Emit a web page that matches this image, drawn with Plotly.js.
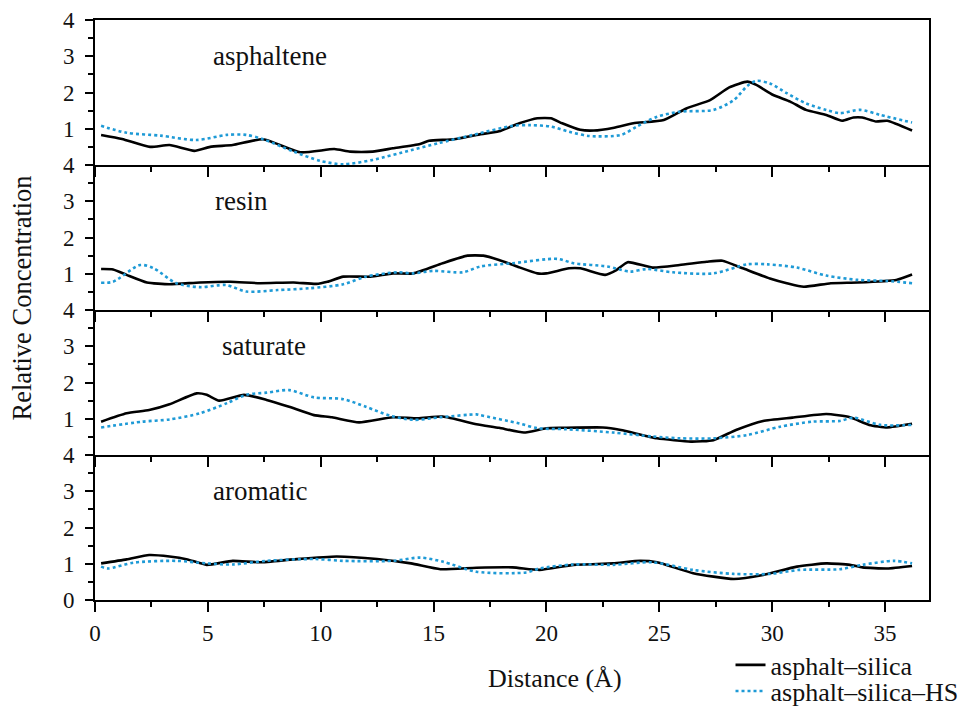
<!DOCTYPE html>
<html>
<head>
<meta charset="utf-8">
<script src="https://cdn.plot.ly/plotly-3.0.1.min.js"></script>
<style>
html,body{margin:0;padding:0;background:#fff;}
#chart{width:966px;height:713px;}
#chart svg text{font-family:"Liberation Serif","DejaVu Serif",serif !important;}
</style>
</head>
<body>
<div id="chart"></div>
<script>
// ---------- data ----------
const panelNames = ["asphaltene", "resin", "saturate", "aromatic"];
const seriesNames = ["asphalt\u2013silica", "asphalt\u2013silica\u2013HS"];

// asphaltene
const asphalteneX_A = [0.27,1.2,2.44,3.3,4.4,5.1,6.1,7.45,9.1,10.6,11.3,12.3,13.2,14.4,14.8,15.9,16.9,17.9,18.8,19.6,20.2,20.7,21.5,22.1,23.0,23.85,25.2,26.2,27.25,28.1,28.9,29.3,30.05,30.8,31.5,32.4,33.1,33.6,34.0,34.6,35.1,36.2];
const asphalteneY_A = [0.83,0.72,0.50,0.55,0.39,0.50,0.55,0.71,0.35,0.44,0.37,0.37,0.46,0.58,0.67,0.71,0.83,0.93,1.15,1.29,1.29,1.15,0.97,0.95,1.03,1.15,1.24,1.56,1.79,2.14,2.30,2.21,1.93,1.75,1.52,1.38,1.22,1.31,1.31,1.20,1.22,0.95];
const asphalteneX_B = [0.27,1.4,2.9,4.5,5.85,6.7,7.45,8.8,10.0,11.0,12.3,14.0,15.2,16.75,18.5,19.3,20.2,21.0,21.9,23.3,24.0,24.9,25.9,27.4,28.3,28.9,29.3,29.9,30.65,31.5,32.4,33.0,33.9,34.8,36.2];
const asphalteneY_B = [1.08,0.89,0.81,0.69,0.83,0.83,0.71,0.37,0.11,0.02,0.14,0.41,0.60,0.83,1.08,1.10,1.06,0.92,0.80,0.83,1.06,1.33,1.47,1.52,1.79,2.18,2.32,2.25,1.98,1.70,1.52,1.43,1.52,1.38,1.17];

// resin
const resinX_A = [0.27,0.8,1.4,2.3,3.3,4.65,6.0,7.3,8.8,9.8,10.3,11.0,12.2,13.2,14.1,15.4,16.5,17.2,17.9,18.7,19.6,20.0,21.0,21.5,22.6,23.1,23.6,24.7,25.9,27.1,27.8,28.7,29.9,30.65,31.4,32.6,33.8,35.5,36.2];
const resinY_A = [1.13,1.12,0.97,0.76,0.71,0.76,0.78,0.74,0.76,0.72,0.78,0.92,0.92,1.01,1.01,1.29,1.50,1.50,1.38,1.20,1.01,1.01,1.15,1.15,0.97,1.10,1.32,1.17,1.24,1.33,1.36,1.15,0.87,0.74,0.64,0.74,0.76,0.83,0.98];
const resinX_B = [0.27,0.8,2.0,2.6,3.6,4.65,5.8,6.7,8.1,9.5,11.0,12.0,13.4,14.1,15.0,16.3,17.06,18.5,20.5,21.2,22.7,23.7,24.45,25.6,27.4,28.9,29.8,31.1,32.4,33.8,35.1,36.2];
const resinY_B = [0.75,0.78,1.24,1.15,0.74,0.63,0.69,0.51,0.55,0.60,0.71,0.92,1.04,1.01,1.08,1.04,1.20,1.29,1.41,1.29,1.20,1.06,1.13,1.04,1.01,1.26,1.26,1.17,0.95,0.83,0.80,0.74];

// saturate
const saturateX_A = [0.27,1.4,2.4,3.3,4.5,4.95,5.5,6.6,7.6,8.6,9.7,10.5,11.7,13.2,14.3,15.4,16.9,17.9,19.0,20.0,20.7,22.5,23.3,24.9,26.4,27.4,28.4,29.6,30.9,32.4,33.45,34.3,35.1,36.2];
const saturateY_A = [0.92,1.15,1.24,1.40,1.70,1.66,1.50,1.66,1.52,1.33,1.10,1.04,0.90,1.04,1.01,1.06,0.85,0.75,0.62,0.74,0.75,0.76,0.69,0.46,0.37,0.41,0.69,0.94,1.03,1.13,1.04,0.83,0.76,0.86];
const saturateX_B = [0.27,2.1,3.3,4.65,5.85,6.7,7.6,8.6,9.7,11.0,12.0,13.1,14.1,15.3,16.9,17.06,18.8,19.6,20.9,22.95,24.7,25.9,27.4,28.9,30.35,31.8,33.0,33.6,34.8,36.2];
const saturateY_B = [0.76,0.92,0.98,1.15,1.43,1.66,1.72,1.79,1.59,1.54,1.33,1.08,0.97,1.04,1.12,1.10,0.87,0.74,0.71,0.62,0.51,0.46,0.46,0.55,0.78,0.92,0.94,1.03,0.83,0.83];

// aromatic
const aromaticX_A = [0.27,1.4,2.4,3.3,4.1,4.95,6.1,7.3,8.8,10.7,12.5,14.0,15.3,16.9,18.5,19.7,21.2,22.95,24.15,24.9,26.5,28.3,29.6,31.1,32.4,33.45,34.0,35.1,36.2];
const aromaticY_A = [1.01,1.12,1.24,1.20,1.12,0.97,1.08,1.04,1.12,1.20,1.13,1.01,0.85,0.89,0.90,0.83,0.97,1.01,1.08,1.04,0.74,0.58,0.69,0.92,1.01,0.97,0.90,0.87,0.94];
const aromaticX_B = [0.27,0.58,1.7,3.6,4.95,6.1,7.6,9.7,11.0,13.2,14.4,15.4,16.9,19.1,19.7,21.2,22.95,24.7,26.5,28.3,29.9,31.2,33.0,34.0,35.4,36.2];
const aromaticY_B = [0.92,0.87,1.03,1.08,1.01,0.98,1.08,1.13,1.08,1.08,1.17,1.06,0.78,0.76,0.87,0.98,0.97,1.04,0.83,0.72,0.72,0.83,0.85,0.97,1.08,1.01];

const xTickVals = [0, 5, 10, 15, 20, 25, 30, 35];
const yTickValsUpper = [1, 2, 3, 4];
const yTickValsBottom = [0, 1, 2, 3, 4];

// ---------- build ----------
const panelData = [
  [asphalteneX_A, asphalteneY_A, asphalteneX_B, asphalteneY_B],
  [resinX_A, resinY_A, resinX_B, resinY_B],
  [saturateX_A, saturateY_A, saturateX_B, saturateY_B],
  [aromaticX_A, aromaticY_A, aromaticX_B, aromaticY_B]
];
const labelPos = [[7.75, 3.0], [6.5, 3.0], [7.5, 3.0], [7.3, 3.0]];

const FONT = "Liberation Serif, DejaVu Serif, serif";
const BLUE = "#1e9ad6";
const traces = [];
const layout = {
  width: 966, height: 713,
  margin: {l: 95, r: 37, t: 20, b: 113, autoexpand: false},
  paper_bgcolor: "#fff", plot_bgcolor: "#fff",
  font: {family: FONT, size: 23, color: "#111"},
  showlegend: true,
  legend: {x: 0.762, y: -0.112, xanchor: "left", yanchor: "middle", font: {family: FONT, size: 26, color: "#111"}, bgcolor: "rgba(0,0,0,0)", borderwidth: 0},
  legend2: {x: 0.762, y: -0.157, xanchor: "left", yanchor: "middle", font: {family: FONT, size: 26, color: "#111"}, bgcolor: "rgba(0,0,0,0)", borderwidth: 0},
  annotations: []
};

for (let i = 0; i < 4; i++) {
  const n = i + 1;
  const xa = n === 1 ? "x" : "x" + n;
  const ya = n === 1 ? "y" : "y" + n;
  const d = panelData[i];
  traces.push({
    x: d[0], y: d[1], xaxis: xa, yaxis: ya, mode: "lines", type: "scatter",
    name: seriesNames[0], showlegend: i === 0, legend: "legend",
    line: {color: "#000", width: 2.6, shape: "spline", smoothing: 0.5}
  });
  traces.push({
    x: d[2], y: d[3], xaxis: xa, yaxis: ya, mode: "lines", type: "scatter",
    name: seriesNames[1], showlegend: i === 0, legend: "legend2",
    line: {color: BLUE, width: 2.6, dash: "dot", shape: "spline", smoothing: 0.8}
  });
  const top = 1 - i * 0.25, bot = 1 - (i + 1) * 0.25;
  const isBottom = (i === 3);
  const xax = {
    domain: [0, 1], anchor: ya, range: [0, 36.95],
    tickmode: "array", tickvals: xTickVals,
    showticklabels: isBottom, ticks: "outside", ticklen: 10, tickwidth: 2, tickcolor: "#000",
    ticklabelstandoff: 1,
    minor: {tickmode: "linear", tick0: 0, dtick: 2.5, ticks: "outside", ticklen: 5, tickwidth: 2, tickcolor: "#000"},
    showline: true, linecolor: "#000", linewidth: 2, mirror: n === 1,
    showgrid: false, zeroline: false, automargin: false,
    tickfont: {family: FONT, size: 23, color: "#111"}
  };
  if (n !== 1) xax.matches = "x";
  layout["xaxis" + (n === 1 ? "" : n)] = xax;
  layout["yaxis" + (n === 1 ? "" : n)] = {
    domain: [bot, top], anchor: xa, range: [0, 4],
    tickmode: "array", tickvals: isBottom ? yTickValsBottom : yTickValsUpper,
    ticks: "outside", ticklen: 8, tickwidth: 2, tickcolor: "#000",
    ticklabelstandoff: 6,
    minor: {tickmode: "linear", tick0: 0, dtick: 0.5, ticks: "outside", ticklen: 5, tickwidth: 2, tickcolor: "#000"},
    showline: true, linecolor: "#000", linewidth: 2, mirror: true,
    showgrid: false, zeroline: false, automargin: false,
    tickfont: {family: FONT, size: 23, color: "#111"}
  };
  layout.annotations.push({
    xref: xa, yref: ya, x: labelPos[i][0], y: labelPos[i][1],
    text: panelNames[i], showarrow: false, xanchor: "center", yanchor: "middle",
    font: {family: FONT, size: 27, color: "#111"}
  });
}

layout.annotations.push({
  xref: "paper", yref: "paper", x: -0.0875, y: 0.52, textangle: -90,
  text: "Relative Concentration", showarrow: false, xanchor: "center", yanchor: "middle",
  font: {family: FONT, size: 26.5, color: "#111"}
});
layout.annotations.push({
  xref: "paper", yref: "paper", x: 0.5516, y: -0.136,
  text: "Distance (\u00c5)", showarrow: false, xanchor: "center", yanchor: "middle",
  font: {family: FONT, size: 26, color: "#111"}
});

Plotly.newPlot("chart", traces, layout, {staticPlot: true, displayModeBar: false});
</script>
</body>
</html>
